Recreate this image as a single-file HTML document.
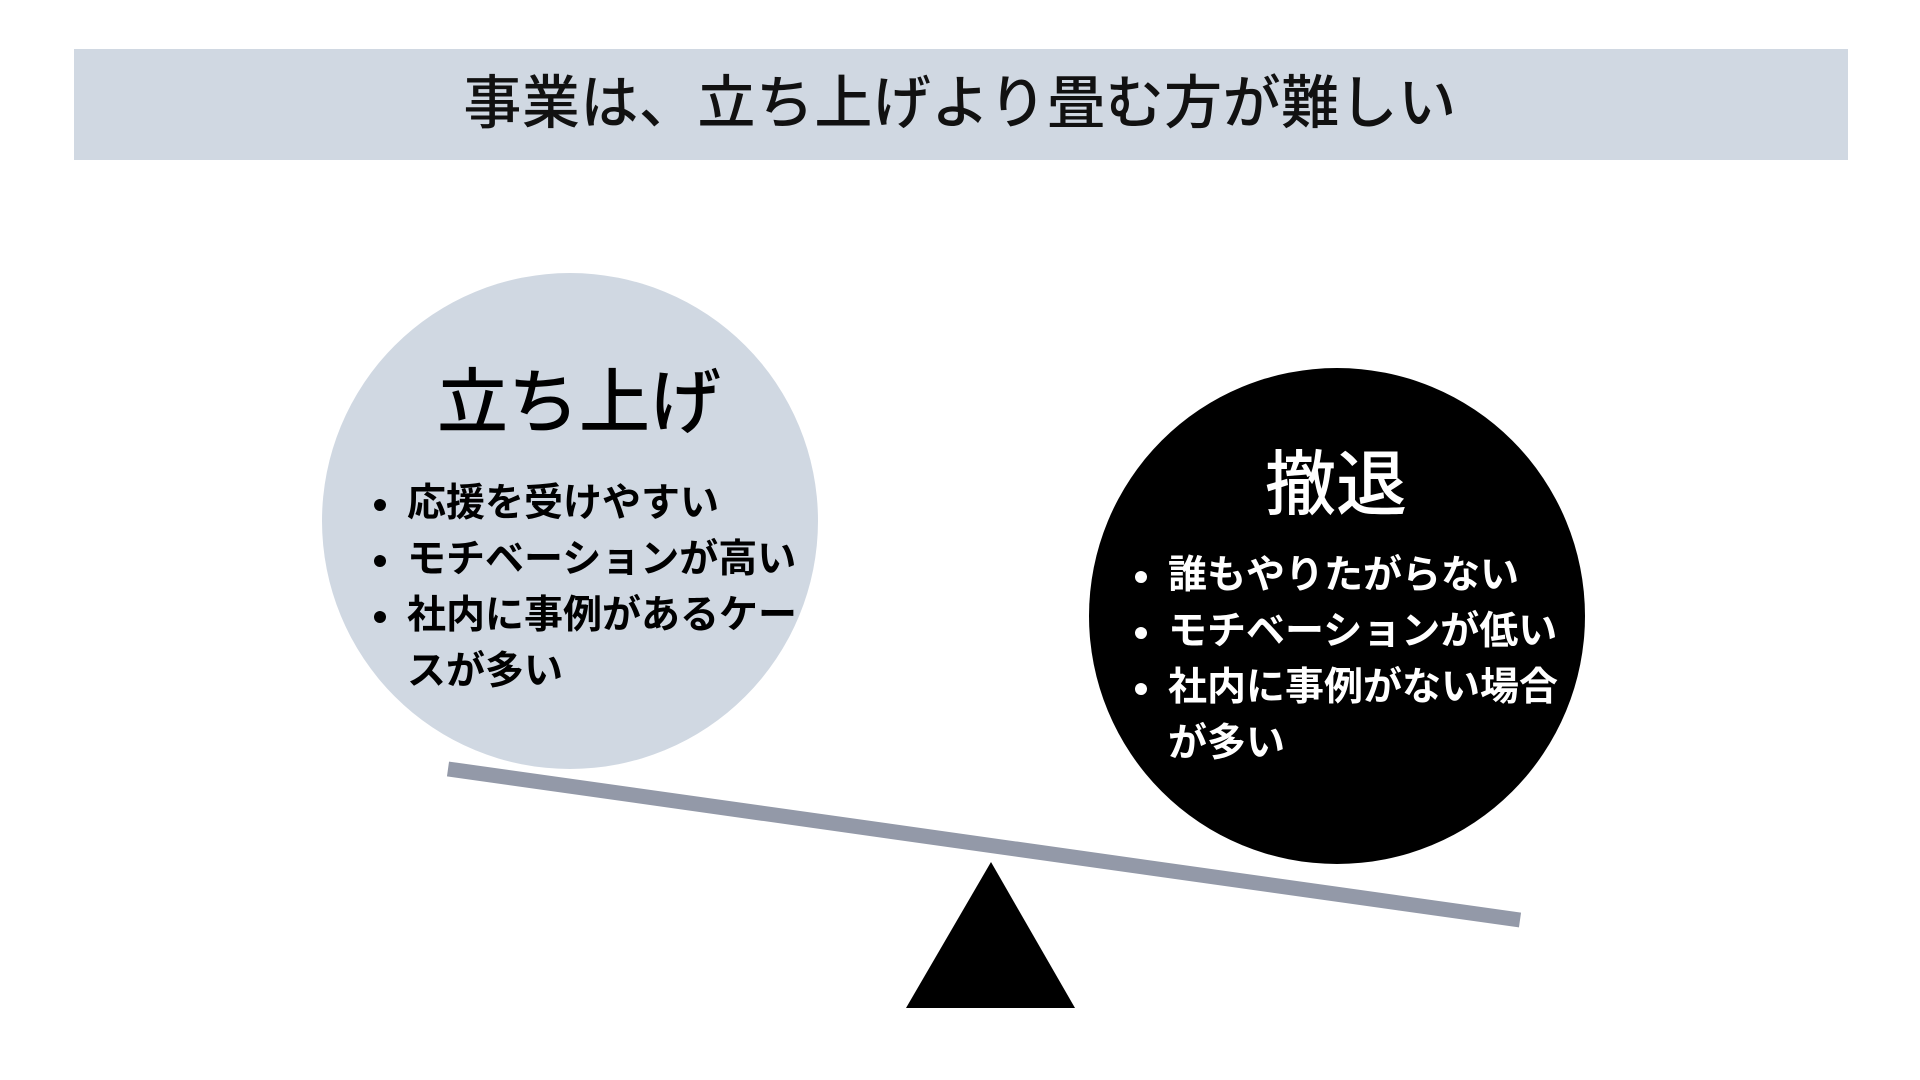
<!DOCTYPE html>
<html><head><meta charset="utf-8"><style>
body{margin:0;width:1920px;height:1080px;background:#fff;position:relative;overflow:hidden;font-family:"Liberation Sans","Noto Sans CJK JP",sans-serif}
.banner{position:absolute;left:74px;top:49px;width:1774px;height:111px;background:#d0d8e2}
.title{position:absolute;left:0;width:1920px;top:48px;height:111px;line-height:111px;text-align:center;font-size:58px;font-weight:500;color:#111;letter-spacing:0.5px}
.c{position:absolute;border-radius:50%}
.t{position:absolute;text-align:center;font-size:71px;font-weight:500;line-height:1}
.b{position:absolute;font-size:39px;font-weight:bold;line-height:56px}
.b div{position:relative}
.b div.d::before{content:"";position:absolute;left:-33px;top:23px;width:12px;height:12px;border-radius:50%;background:currentColor}
</style></head><body>
<div class="banner"></div>
<div class="title">事業は、立ち上げより畳む方が難しい</div>
<div class="c" style="left:322px;top:273px;width:496px;height:496px;background:#d0d8e2"></div>
<div class="c" style="left:1089px;top:368px;width:496px;height:496px;background:#000"></div>
<div class="t" style="left:329px;width:500px;top:368px;color:#000">立ち上げ</div>
<div class="t" style="left:1086px;width:500px;top:450px;color:#fff">撤退</div>
<div class="b" style="left:407px;top:476px;color:#000">
<div class="d">応援を受けやすい</div><div class="d">モチベーションが高い</div><div class="d">社内に事例があるケー</div><div>スが多い</div></div>
<div class="b" style="left:1168px;top:548px;color:#fff">
<div class="d">誰もやりたがらない</div><div class="d">モチベーションが低い</div><div class="d">社内に事例がない場合</div><div>が多い</div></div>
<svg style="position:absolute;left:0;top:0" width="1920" height="1080">
<line x1="448" y1="769" x2="1520" y2="920" stroke="#9399a8" stroke-width="15"/>
<polygon points="991,862 906,1008 1075,1008" fill="#000"/>
</svg>
</body></html>
